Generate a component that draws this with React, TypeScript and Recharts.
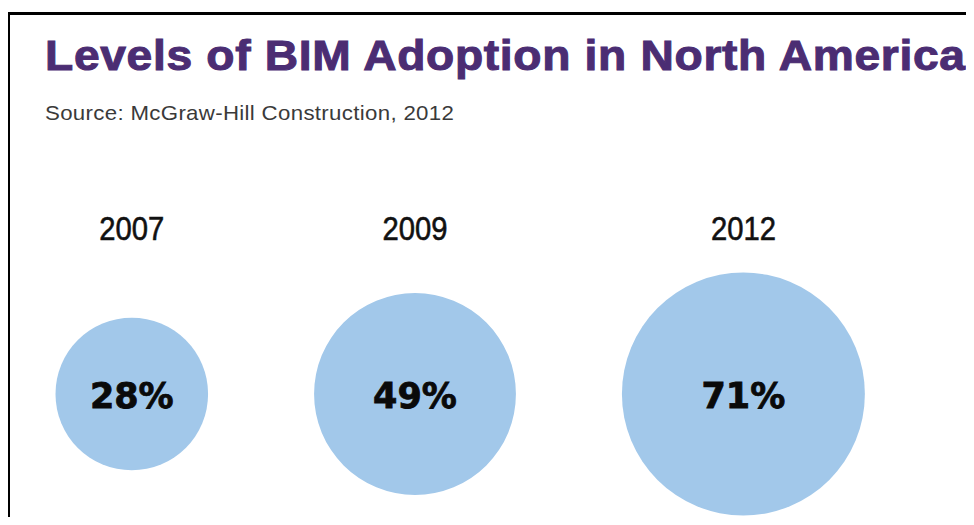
import { ScatterChart, Scatter, XAxis, YAxis, ZAxis, LabelList } from "recharts";

const years = ["2007", "2009", "2012"];
const adoption = [28, 49, 71];

const TITLE = "Levels of BIM Adoption in North America";
const SOURCE = "Source: McGraw-Hill Construction, 2012";

const WIDTH = 974;
const HEIGHT = 560;
// bubble area grows linearly with the percentage
const AREA_PER_PCT = 653;
const GAP = 106;
const LEFT = 55.5;

const radius = (v: number) => Math.sqrt((v * AREA_PER_PCT) / Math.PI);

// pack the bubbles left to right with an equal gap between them
let cursor = LEFT;
const centers = adoption.map((v) => {
  const r = radius(v);
  const c = cursor + r;
  cursor += 2 * r + GAP;
  return c;
});

const rows = years.map((year, i) => ({ year, value: adoption[i], x: centers[i], y: 1 }));

const yearAt = (x: number) => {
  const i = centers.findIndex((c) => Math.abs(c - x) < 0.5);
  return i >= 0 ? years[i] : "";
};

// condensed year labels (no narrow font installed, so squeeze a regular one)
function YearTick({ x, y, payload }: any) {
  return (
    <text
      transform={`translate(${x},${y}) scale(0.86,1)`}
      textAnchor="middle"
      fill="#111"
      stroke="#111"
      strokeWidth={0.6}
      fontSize={34}
      fontFamily='"Liberation Sans", Arial, sans-serif'
    >
      {yearAt(payload.value)}
    </text>
  );
}

export default function App() {
  return (
    <div
      style={{
        position: "relative",
        margin: -8,
        width: 974,
        height: 525,
        overflow: "hidden",
        background: "#fff",
      }}
    >
      <div
        style={{
          position: "absolute",
          left: 7,
          top: 12,
          width: 2000,
          height: 2000,
          borderTop: "3px solid #000",
          borderLeft: "3px solid #000",
        }}
      />
      <div
        style={{
          position: "absolute",
          left: 45,
          top: 35,
          fontFamily: '"Liberation Sans", Arial, sans-serif',
          fontWeight: 700,
          fontSize: 42,
          lineHeight: 1,
          letterSpacing: 0.6,
          color: "#4b2d73",
          WebkitTextStroke: "1px #4b2d73",
          transform: "scaleX(1.1)",
          transformOrigin: "0 0",
          whiteSpace: "nowrap",
        }}
      >
        {TITLE}
      </div>
      <div
        style={{
          position: "absolute",
          left: 45,
          top: 102,
          fontFamily: '"Liberation Sans", Arial, sans-serif',
          fontSize: 21,
          lineHeight: 1,
          letterSpacing: 0.3,
          color: "#3a3a3a",
          transform: "scaleX(1.06)",
          transformOrigin: "0 0",
          whiteSpace: "nowrap",
        }}
      >
        {SOURCE}
      </div>
      <div style={{ position: "absolute", left: 0, top: 0 }}>
        <ScatterChart width={WIDTH} height={HEIGHT} margin={{ top: 190, right: 0, bottom: 20, left: 0 }}>
          <XAxis
            type="number"
            dataKey="x"
            orientation="top"
            domain={[0, WIDTH]}
            ticks={centers}
            interval={0}
            height={58}
            axisLine={false}
            tickLine={false}
            tick={<YearTick />}
          />
          <YAxis type="number" dataKey="y" domain={[0, 2]} hide />
          <ZAxis type="number" dataKey="value" domain={[0, 100]} range={[0, AREA_PER_PCT * 100]} />
          <Scatter data={rows} fill="#a2c8ea" isAnimationActive={false}>
            <LabelList
              dataKey="value"
              position="center"
              formatter={(v: number) => `${v}%`}
              fill="#0a0a0a"
              stroke="#0a0a0a"
              strokeWidth={0.8}
              fontSize={35}
              fontWeight={700}
              fontFamily='"DejaVu Sans", Verdana, sans-serif'
              dy={2}
            />
          </Scatter>
        </ScatterChart>
      </div>
    </div>
  );
}
